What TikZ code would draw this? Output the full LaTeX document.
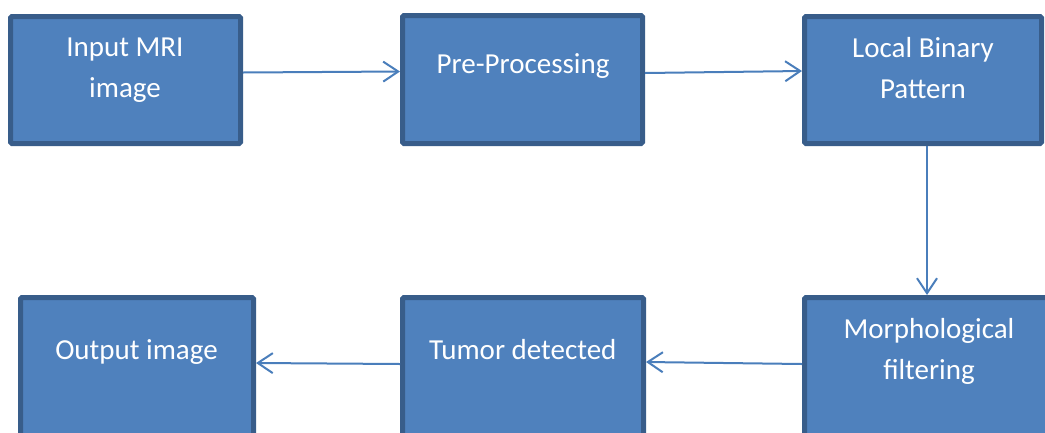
\documentclass[tikz,border=0pt]{standalone}
\usepackage{fontspec}
\setmainfont{Carlito}
\usetikzlibrary{arrows.meta}
\definecolor{boxfill}{HTML}{4F81BD}
\definecolor{boxline}{HTML}{385D8A}
\definecolor{flowline}{HTML}{4A7EBB}
\begin{document}
\begin{tikzpicture}[x=1pt,y=-1pt,
  stage/.style={draw=boxline, fill=boxfill, line width=5pt, rounded corners=1.5pt,
                inner sep=0pt, outer sep=2.5pt},
  caption/.style={text=white, font=\fontsize{29}{41}\selectfont, align=center,
                  inner sep=0pt, anchor=base},
  flow/.style={draw=flowline, line width=2pt,
               -{Straight Barb[length=15pt,width=20pt]}}]
\useasboundingbox (0,0) rectangle (1045,432);
\clip (0,0) rectangle (1045,432);

% top row
\node[stage, minimum width=230pt, minimum height=127pt] (inp) at (125.5,80) {};
\node[stage, minimum width=240pt, minimum height=128pt] (pre) at (522.5,79.5) {};
\node[stage, minimum width=237pt, minimum height=127pt] (lbp) at (923,80) {};
% bottom row (runs past the lower edge)
\node[stage, minimum width=233pt, minimum height=145pt] (out) at (137,370) {};
\node[stage, minimum width=241pt, minimum height=145pt] (tum) at (523,370) {};
\node[stage, minimum width=251pt, minimum height=145pt] (mor) at (930,370) {};

% labels (anchored on the baseline of their last line)
\node[caption] (inp-t) at (125,97) {Input MRI\\image};
\node[caption] (pre-t) at (523,73) {Pre-Processing};
\node[caption] (lbp-t) at (923,98) {Local Binary\\Pattern};
\node[caption] (out-t) at (136.5,359) {Output image};
\node[caption] (tum-t) at (522.7,359) {Tumor detected};
\node[caption] (mor-t) at (929,379) {Morphological\\filtering};

% connectors
\draw[flow] ([yshift=7.5pt]inp.east) -- ([yshift=8pt]pre.west);
\draw[flow] ([yshift=6.5pt]pre.east) -- ([yshift=9pt]lbp.west);
\draw[flow] ([xshift=4pt]lbp.south) -- ([xshift=-3pt]mor.north);
\draw[flow] ([yshift=6pt]mor.west) -- ([yshift=8pt]tum.east);
\draw[flow] ([yshift=6pt]tum.west) -- ([yshift=7pt]out.east);
\end{tikzpicture}
\end{document}
